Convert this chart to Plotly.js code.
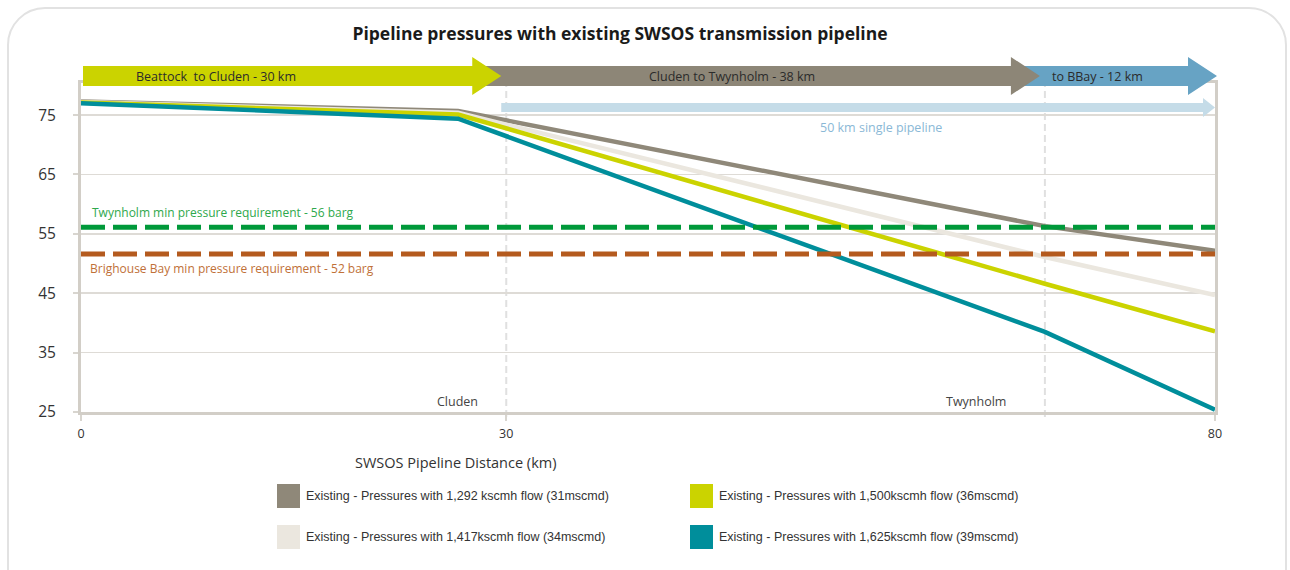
<!DOCTYPE html>
<html>
<head>
<meta charset="utf-8">
<script src="https://cdn.plot.ly/plotly-3.0.1.min.js"></script>
<style>
    html, body { margin: 0; padding: 0; background: #fff; overflow: hidden; }
    #frame {
        position: absolute; left: 7px; top: 7px; width: 1276px; height: 600px;
        border: 2px solid #e2e2e2; border-radius: 38px;
    }
    #chart { position: absolute; left: 0; top: 0; width: 1290px; height: 570px; }
</style>
</head>
<body>
<div id="frame"></div>
<div id="chart"></div>
<script>
// данные
const distanceKm = [0, 26.6, 68, 80];
const flow1292 = [77.3, 75.7, 56.3, 52.15];
const flow1417 = [77.2, 75.4, 51.1, 44.7];
const flow1500 = [77.1, 75.1, 46.6, 38.6];
const flow1625 = [77.0, 74.4, 38.5, 25.4];

const seriesNames = [
    'Existing - Pressures with 1,292 kscmh flow (31mscmd)',
    'Existing - Pressures with 1,417kscmh flow (34mscmd)',
    'Existing - Pressures with 1,500kscmh flow (36mscmd)',
    'Existing - Pressures with 1,625kscmh flow (39mscmd)'
];
const seriesValues = [flow1292, flow1417, flow1500, flow1625];
const seriesColors = ['#8f8879', '#ebe7df', '#cbd300', '#008e9b'];

const requirementKm = [0, 80];
const twynholmMin = [56.1, 56.1];
const brighouseMin = [51.6, 51.6];

const sectionStart = [0, 30, 68];
const sectionEnd = [30, 68, 80];
const sectionLabels = ['Beattock  to Cluden - 30 km', 'Cluden to Twynholm - 38 km', 'to BBay - 12 km'];
const sectionColors = ['#cbd300', '#8d8677', '#67a3c4'];

const stationKm = [30, 68];
const stationNames = ['Cluden', 'Twynholm'];

const xTicks = [0, 30, 80];
const yTicks = [25, 35, 45, 55, 65, 75];

// размеры области графика
const W = 1290, H = 570;
const L = 81, R = 75, T = 83, B = 158;
const plotW = W - L - R, plotH = H - T - B;
const xRange = [0, 80];
const yRange = [25, 80.4];

const FONT = '"Open Sans", sans-serif';
const NARROW = '"Liberation Sans", Arial, sans-serif';

function kmToPx(km) { return L + (km - xRange[0]) / (xRange[1] - xRange[0]) * plotW; }
function px(p) { return (p - L) / plotW; }   // пиксели -> paper x
function py(p) { return (H - B - p) / plotH; } // пиксели -> paper y

const traces = [];
seriesValues.forEach((vals, i) => {
    traces.push({
        x: distanceKm, y: vals, mode: 'lines', type: 'scatter',
        name: seriesNames[i], showlegend: false,
        line: { color: seriesColors[i], width: 4.5 }
    });
});
traces.push({
    x: requirementKm, y: twynholmMin, mode: 'lines', showlegend: false,
    line: { color: '#00993a', width: 5, dash: '24px,8px' }
});
traces.push({
    x: requirementKm, y: brighouseMin, mode: 'lines', showlegend: false,
    line: { color: '#b45a1e', width: 5, dash: '24px,8px' }
});

const shapes = [];
const annotations = [];

// стрелки участков (последние рисуем первыми)
for (let i = sectionStart.length - 1; i >= 0; i--) {
    const last = i === sectionStart.length - 1;
    const xs = i === 0 ? kmToPx(sectionStart[i]) + 2 : kmToPx(sectionStart[i]) - 30;
    const xt = last ? kmToPx(sectionEnd[i]) + 2 : kmToPx(sectionEnd[i]) - 5;
    const xb = xt - 29;
    const path = `M${px(xs)},${py(66)} L${px(xb)},${py(66)} L${px(xb)},${py(57)} L${px(xt)},${py(76)} ` +
        `L${px(xb)},${py(95)} L${px(xb)},${py(86)} L${px(xs)},${py(86)} Z`;
    shapes.push({ type: 'path', xref: 'paper', yref: 'paper', path: path,
        fillcolor: sectionColors[i], line: { width: 0 } });
}
const sectionLabelKm = [9.5, 45.9, 71.7];
sectionLabels.forEach((t, i) => {
    annotations.push({ xref: 'x', yref: 'paper', x: sectionLabelKm[i], y: py(76),
        text: t, showarrow: false, xanchor: 'center', yanchor: 'middle',
        font: { family: FONT, size: 12.5, color: '#2b2b2b' } });
});

// одна труба 50 км
{
    const xs = kmToPx(sectionStart[1]) - 5, xt = kmToPx(sectionEnd[2]);
    const xb = xt - 12;
    const path = `M${px(xs)},${py(103)} L${px(xb)},${py(103)} L${px(xb)},${py(98)} L${px(xt)},${py(107.5)} ` +
        `L${px(xb)},${py(117)} L${px(xb)},${py(112)} L${px(xs)},${py(112)} Z`;
    shapes.push({ type: 'path', xref: 'paper', yref: 'paper', path: path,
        fillcolor: '#c5dce8', line: { width: 0 } });
    annotations.push({ xref: 'paper', yref: 'paper', x: px(881), y: py(127),
        text: '50 km single pipeline', showarrow: false, xanchor: 'center', yanchor: 'middle',
        font: { family: FONT, size: 12.5, color: '#8ab8d6' } });
}

// станции
stationKm.forEach((km, i) => {
    shapes.push({ type: 'line', xref: 'x', yref: 'paper', x0: km, x1: km,
        y0: py(417), y1: py(86), layer: 'below',
        line: { color: '#e0e0e0', width: 2, dash: '7px,4px' } });
});
const stationLabelPx = [457, 976];
stationNames.forEach((n, i) => {
    annotations.push({ xref: 'paper', yref: 'paper', x: px(stationLabelPx[i]), y: py(401),
        text: n, showarrow: false, xanchor: 'center', yanchor: 'middle',
        font: { family: FONT, size: 12.5, color: '#444' } });
});

// подписи требований
annotations.push({ xref: 'paper', yref: 'paper', x: px(90), y: py(212),
    text: 'Twynholm min pressure requirement - 56 barg', showarrow: false,
    xanchor: 'left', yanchor: 'middle', font: { family: FONT, size: 12, color: '#2ea84c' } });
annotations.push({ xref: 'paper', yref: 'paper', x: px(88), y: py(268),
    text: 'Brighouse Bay min pressure requirement - 52 barg', showarrow: false,
    xanchor: 'left', yanchor: 'middle', font: { family: FONT, size: 12, color: '#c07038' } });

// подпись оси X
annotations.push({ xref: 'paper', yref: 'paper', x: px(455), y: py(462),
    text: 'SWSOS Pipeline Distance (km)', showarrow: false, xanchor: 'center', yanchor: 'middle',
    font: { family: FONT, size: 14.5, color: '#333' } });

// легенда: 2 колонки
const legendOrder = [0, 2, 1, 3];
const legendCol = [277, 690];
const legendRow = [496, 537];
legendOrder.forEach((s, k) => {
    const cx = legendCol[k % 2], cy = legendRow[Math.floor(k / 2)];
    shapes.push({ type: 'rect', xref: 'paper', yref: 'paper',
        x0: px(cx), x1: px(cx + 23), y0: py(cy - 12), y1: py(cy + 12),
        fillcolor: seriesColors[s], line: { width: 0 } });
    annotations.push({ xref: 'paper', yref: 'paper', x: px(cx + 27), y: py(cy),
        text: seriesNames[s], showarrow: false, xanchor: 'left', yanchor: 'middle',
        font: { family: NARROW, size: 12.5, color: '#333' } });
});

const layout = {
    width: W, height: H,
    margin: { l: L, r: R, t: T, b: B, pad: 0 },
    paper_bgcolor: 'rgba(0,0,0,0)',
    plot_bgcolor: 'rgba(0,0,0,0)',
    showlegend: false,
    title: {
        text: '<b>Pipeline pressures with existing SWSOS transmission pipeline</b>',
        x: 620 / W, xanchor: 'center', xref: 'container',
        y: 1 - 34 / H, yanchor: 'middle', yref: 'container',
        font: { family: FONT, size: 17.5, color: '#1a1a1a' }
    },
    xaxis: {
        range: xRange, tickvals: xTicks, ticktext: xTicks.map(String),
        showgrid: false, zeroline: false,
        showline: true, linecolor: '#d2cec7', linewidth: 3, mirror: true,
        ticks: 'outside', ticklen: 6, tickwidth: 2, tickcolor: '#d8d5cf',
        ticklabelstandoff: 2,
        tickfont: { family: FONT, size: 12.5, color: '#333' }
    },
    yaxis: {
        range: yRange, tickvals: yTicks, ticktext: yTicks.map(String),
        showgrid: true, gridcolor: '#dedbd6', gridwidth: 1.5, zeroline: false,
        showline: true, linecolor: '#d2cec7', linewidth: 3, mirror: true,
        ticks: 'outside', ticklen: 5, tickwidth: 2, tickcolor: '#d8d5cf',
        ticklabelstandoff: 14,
        tickfont: { family: FONT, size: 15.5, color: '#333' }
    },
    shapes: shapes,
    annotations: annotations
};

Plotly.newPlot('chart', traces, layout, { displayModeBar: false, staticPlot: true });
</script>
</body>
</html>
